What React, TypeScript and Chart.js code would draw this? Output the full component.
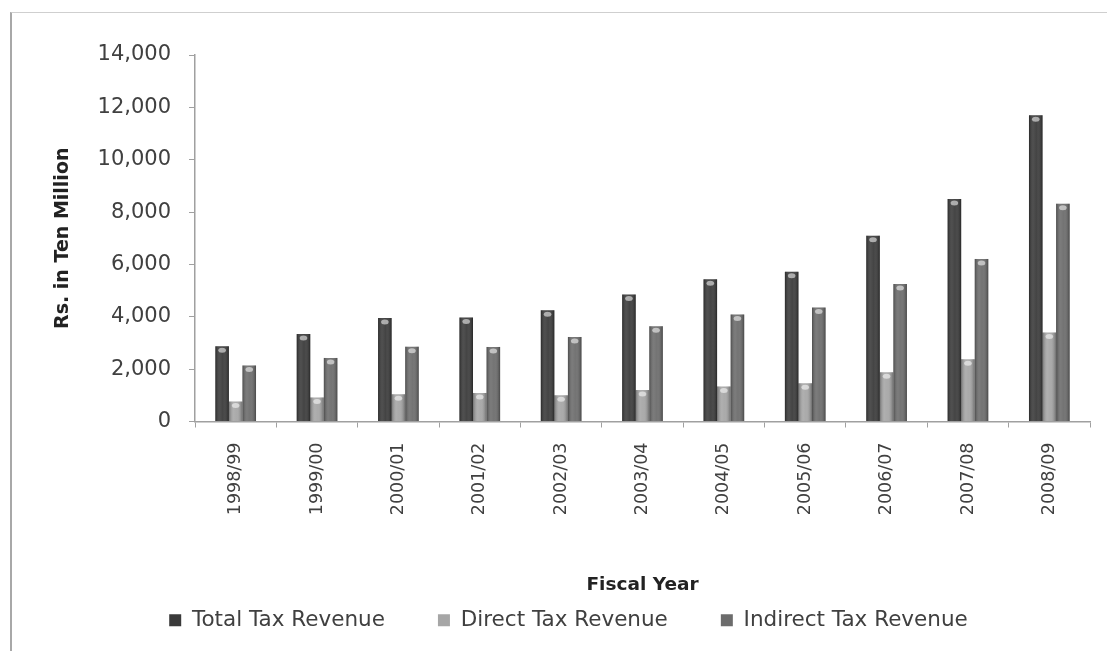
import React, { useEffect, useRef } from "react";
import { Chart, registerables } from "chart.js";

Chart.register(...registerables);

const categories = ["1998/99", "1999/00", "2000/01", "2001/02", "2002/03", "2003/04", "2004/05", "2005/06", "2006/07", "2007/08", "2008/09"];
const totalTax = [2870, 3340, 3950, 3970, 4250, 4850, 5430, 5720, 7100, 8500, 11700];
const directTax = [760, 920, 1040, 1090, 1000, 1200, 1340, 1460, 1880, 2380, 3400];
const indirectTax = [2140, 2430, 2860, 2850, 3230, 3640, 4090, 4350, 5250, 6210, 8320];
const yTicks = [0, 2000, 4000, 6000, 8000, 10000, 12000, 14000];

const FONT = "'DejaVu Sans', sans-serif";

const cylinderPlugin = {
  id: "cylinder",
  afterDatasetsDraw(chart: any) {
    const ctx = chart.ctx;
    chart.data.datasets.forEach((_: any, di: number) => {
      const meta = chart.getDatasetMeta(di);
      meta.data.forEach((bar: any) => {
        const left = bar.x - bar.width / 2;
        const right = bar.x + bar.width / 2;
        const top = Math.min(bar.y, bar.base);
        const h = Math.abs(bar.base - bar.y);
        const g = ctx.createLinearGradient(left, 0, right, 0);
        g.addColorStop(0, "rgba(0,0,0,0.30)");
        g.addColorStop(0.35, "rgba(255,255,255,0.10)");
        g.addColorStop(0.55, "rgba(255,255,255,0.05)");
        g.addColorStop(1, "rgba(0,0,0,0.34)");
        ctx.save();
        ctx.fillStyle = g;
        ctx.fillRect(left, top, right - left, h);
        ctx.fillStyle = "rgba(255,255,255,0.55)";
        ctx.beginPath();
        ctx.ellipse(bar.x, top + 4, bar.width * 0.28, 2.5, 0, 0, Math.PI * 2);
        ctx.fill();
        ctx.restore();
      });
    });
  },
};

export default function App() {
  const ref = useRef<HTMLCanvasElement>(null);
  useEffect(() => {
    if (!ref.current) return;
    const chart = new Chart(ref.current, {
      type: "bar",
      data: {
        labels: categories,
        datasets: [
          { label: "Total Tax Revenue", data: totalTax, backgroundColor: "#3a3a3a" },
          { label: "Direct Tax Revenue", data: directTax, backgroundColor: "#a6a6a6" },
          { label: "Indirect Tax Revenue", data: indirectTax, backgroundColor: "#6c6c6c" },
        ],
      },
      options: {
        animation: false,
        responsive: true,
        maintainAspectRatio: false,
        datasets: { bar: { categoryPercentage: 0.5, barPercentage: 1.0 } },
        layout: { padding: { left: 47, right: 17, top: 55, bottom: 10 } },
        plugins: {
          tooltip: { enabled: false },
          legend: {
            position: "bottom",
            labels: {
              color: "#404040",
              font: { family: FONT, size: 21.5 },
              boxWidth: 12,
              boxHeight: 12,
              padding: 53,
            },
          },
        },
        scales: {
          x: {
            grid: { display: true, drawOnChartArea: false, offset: true, tickLength: 6, color: "#a0a0a0" },
            border: { display: true, color: "#a0a0a0", width: 1.5 },
            ticks: {
              minRotation: 90,
              maxRotation: 90,
              autoSkip: false,
              padding: 15,
              color: "#404040",
              font: { family: FONT, size: 17.5 },
            },
            title: {
              display: true,
              text: "Fiscal Year",
              color: "#222",
              font: { family: FONT, size: 18.5, weight: "bold" },
              padding: { top: 0, bottom: -40 },
            },
            afterFit(scale: any) {
              scale.height = 135;
            },
          },
          y: {
            min: 0,
            max: 14000,
            afterBuildTicks(scale: any) {
              scale.ticks = yTicks.map((v) => ({ value: v }));
            },
            grid: { display: true, drawOnChartArea: false, tickLength: 6, color: "#a0a0a0" },
            border: { display: true, color: "#a0a0a0", width: 1.5 },
            ticks: {
              padding: 18,
              color: "#404040",
              font: { family: FONT, size: 21 },
              callback: (v: any) => Number(v).toLocaleString("en-US"),
            },
            title: {
              display: true,
              text: "Rs. in Ten Million",
              color: "#222",
              font: { family: FONT, size: 19, weight: "bold" },
              padding: { top: 5, bottom: 0 },
            },
            afterFit(scale: any) {
              scale.width = 148;
            },
          },
        },
      },
      plugins: [cylinderPlugin],
    });
    return () => chart.destroy();
  }, []);

  return (
    <div style={{ position: "absolute", left: 0, top: 0, width: 1107, height: 651, background: "#fff", overflow: "hidden" }}>
      <canvas ref={ref} />
      <div
        style={{
          position: "absolute",
          left: 10,
          top: 12,
          width: 1107,
          height: 651,
          borderLeft: "2px solid #a8a8a8",
          borderTop: "1px solid #cfcfcf",
          pointerEvents: "none",
        }}
      />
    </div>
  );
}
